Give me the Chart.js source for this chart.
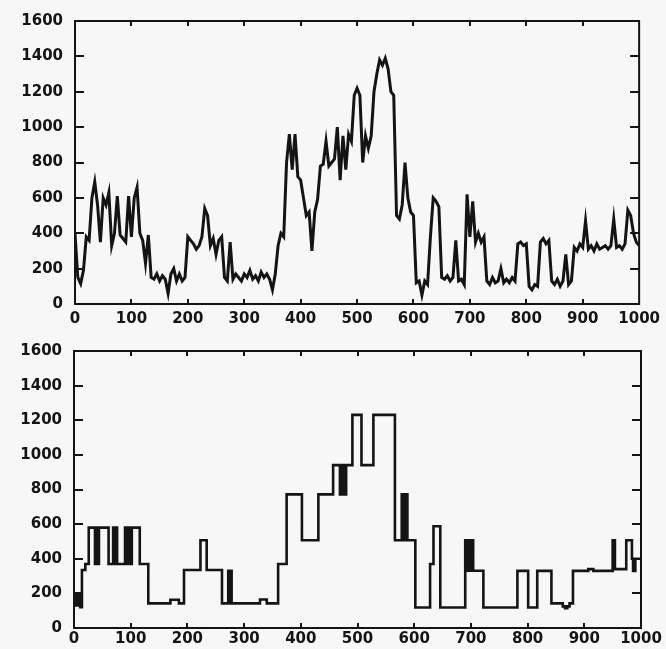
<!DOCTYPE html>
<html><head><meta charset="utf-8">
<script src="https://cdn.jsdelivr.net/npm/chart.js@4.4.1/dist/chart.umd.min.js"></script>
<style>
html,body{margin:0;padding:0;background:#f7f7f7;width:666px;height:649px;overflow:hidden;}
#c1{position:absolute;left:0;top:0;}
#c2{position:absolute;left:0;top:330px;}
</style></head><body>
<canvas id="c1" width="666" height="330"></canvas>
<canvas id="c2" width="666" height="319"></canvas>
<script>
// tick values
const xTicks = [0,100,200,300,400,500,600,700,800,900,1000];
const yTicks = [0,200,400,600,800,1000,1200,1400,1600];

// top panel: raw signal sampled every 5 units (x = 0..1000)
const topStep = 5;
const topY = [
 400,150,115,190,380,360,600,690,560,350,600,560,630,330,400,610,390,370,350,610,
 380,600,660,400,360,230,390,150,140,170,130,160,140,60,170,200,130,170,130,150,
 380,360,340,310,330,380,540,500,330,370,280,360,380,150,130,350,140,170,150,130,
 170,150,190,140,160,130,180,150,170,140,80,170,330,400,380,800,960,760,960,720,
 700,600,500,520,300,520,590,780,790,920,780,800,820,1000,700,950,760,960,920,1180,
 1220,1180,800,950,880,950,1200,1300,1380,1350,1390,1330,1200,1180,500,480,560,800,600,520,
 500,120,130,50,130,110,380,600,580,550,150,140,160,130,150,360,130,140,110,620,
 380,580,350,400,350,380,130,110,150,120,130,200,120,140,120,150,130,340,350,330,
 340,100,80,110,100,350,370,340,360,130,110,140,100,130,280,110,130,320,300,340,
 320,470,310,330,300,340,310,320,330,310,330,480,320,330,310,340,530,500,400,350,
 330
];

// bottom panel: piecewise-constant signal (value holds from x until next x)
const botX = [0,4,8,11,14,20,26,37,39,41,44,61,69,72,74,76,90,92,94,96,98,100,102,116,131,170,185,194,223,234,261,272,274,276,278,328,340,360,375,402,431,457,469,471,473,476,478,480,491,507,528,566,578,580,582,584,586,588,602,628,634,646,690,692,694,696,698,700,702,704,722,782,801,817,842,862,866,870,874,880,907,916,950,954,974,984,986,990,1000];
const botY = [190,130,190,120,335,370,580,370,580,370,580,370,580,370,580,370,580,370,580,370,580,370,580,370,142,163,142,335,507,335,142,330,142,330,142,165,142,370,772,507,772,941,772,941,772,941,772,941,1231,941,1231,507,772,507,772,507,772,507,118,370,588,118,507,331,507,331,507,331,507,331,118,330,118,330,142,125,115,125,142,330,340,330,507,340,507,400,330,400,400];

const FONT = {family:"'DejaVu Sans', sans-serif", size:15, weight:'bold'};
const INK = '#141414';

const frame = {
  id:'boxframe',
  afterDraw(chart){
    const ctx = chart.ctx, a = chart.chartArea, x = chart.scales.x, y = chart.scales.y;
    ctx.save();
    ctx.strokeStyle = INK;
    ctx.lineWidth = 2;
    ctx.strokeRect(a.left, a.top, a.right-a.left, a.bottom-a.top);
    ctx.beginPath();
    xTicks.forEach(v=>{
      if (v<=0 || v>=1000) return;
      const px = Math.round(x.getPixelForValue(v));
      ctx.moveTo(px, a.bottom); ctx.lineTo(px, a.bottom-5);
      ctx.moveTo(px, a.top); ctx.lineTo(px, a.top+5);
    });
    yTicks.forEach(v=>{
      if (v<=0 || v>=1600) return;
      const py = Math.round(y.getPixelForValue(v));
      ctx.moveTo(a.left, py); ctx.lineTo(a.left+9, py);
      ctx.moveTo(a.right, py); ctx.lineTo(a.right-9, py);
    });
    ctx.stroke();
    ctx.restore();
  }
};

function makeChart(id, data, stepped, axisW, axisH, pad, xPad, lw){
  return new Chart(document.getElementById(id), {
    type:'line',
    data:{datasets:[{data, borderColor:INK, borderWidth:lw, pointRadius:0, tension:0, stepped, fill:false}]},
    options:{
      responsive:false, animation:false,
      layout:{padding:pad},
      plugins:{legend:{display:false}, tooltip:{enabled:false}},
      scales:{
        x:{type:'linear', min:0, max:1000,
           afterFit(s){ s.height = axisH; },
           afterBuildTicks(s){ s.ticks = xTicks.map(v=>({value:v})); },
           ticks:{font:FONT, color:INK, padding:xPad, maxRotation:0, autoSkip:false, callback:v=>String(v)},
           grid:{display:false, drawTicks:false}, border:{display:false}},
        y:{type:'linear', min:0, max:1600,
           afterFit(s){ s.width = axisW; },
           afterBuildTicks(s){ s.ticks = yTicks.map(v=>({value:v})); },
           ticks:{font:FONT, color:INK, padding:12, autoSkip:false, callback:v=>String(v)},
           grid:{display:false, drawTicks:false}, border:{display:false}}
      }
    },
    plugins:[frame]
  });
}

const topData = topY.map((v,i)=>({x:i*topStep, y:v}));
const botData = botX.map((v,i)=>({x:v, y:botY[i]}));

makeChart('c1', topData, false, 75, 26, {left:0, right:24, top:18, bottom:0}, 6, 3);
makeChart('c2', botData, true, 74, 21, {left:0, right:25, top:17, bottom:0}, 2, 2.6);
</script>
</body></html>
